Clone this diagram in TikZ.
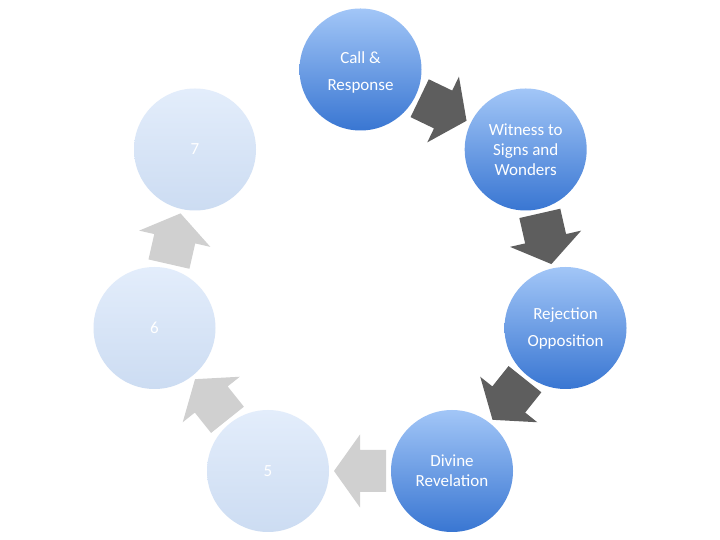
\documentclass[tikz,border=0pt]{standalone}
\usepackage{fontspec}
\setmainfont{Carlito}
\usetikzlibrary{calc}
\definecolor{bluetop}{HTML}{A2C6F7}
\definecolor{bluebot}{HTML}{3976D2}
\definecolor{paletop}{HTML}{E3EDFB}
\definecolor{palebot}{HTML}{CCDCF2}
\definecolor{darkarrow}{HTML}{5E5E5E}
\definecolor{lightarrow}{HTML}{D0D0D0}
\tikzset{
  stage/.style={circle, minimum size=122pt, inner sep=0pt, text=white, align=center,
    font=\fontsize{17}{20}\selectfont},
  bluestage/.style={stage, top color=bluetop, bottom color=bluebot},
  palestage/.style={stage, top color=paletop, bottom color=palebot},
}
\newcommand{\blockarrow}[4]{%
  \begin{scope}[shift={($(#1)!0.5!(#2)$)}, rotate=#3]
    \fill[#4] (-26,-21) -- (0,-21) -- (0,-36.5) -- (26,0) -- (0,36.5) -- (0,21) -- (-26,21) -- cycle;
  \end{scope}}
\begin{document}
\begin{tikzpicture}[x=1pt,y=1pt]
\useasboundingbox[fill=white] (0,0) rectangle (720,540);
\node[bluestage] (s1) at (360.5,470.5) {\\[-1.5pt]Call \&\\[7pt]Response};
\node[bluestage] (s2) at (525.7,390.5) {Witness to\\Signs and\\Wonders};
\node[bluestage] (s3) at (565.5,212) {Rejection\\[7pt]Opposition};
\node[bluestage] (s4) at (452,69) {Divine\\Revelation};
\node[palestage] (s5) at (268,69) {5};
\node[palestage] (s6) at (154.5,212) {6};
\node[palestage] (s7) at (195,390.5) {7};
\blockarrow{s1}{s2}{-25.71}{darkarrow}
\blockarrow{s2}{s3}{-77.14}{darkarrow}
\blockarrow{s3}{s4}{-128.57}{darkarrow}
\blockarrow{s4}{s5}{180}{lightarrow}
\blockarrow{s5}{s6}{128.57}{lightarrow}
\blockarrow{s6}{s7}{77.14}{lightarrow}
\end{tikzpicture}
\end{document}
